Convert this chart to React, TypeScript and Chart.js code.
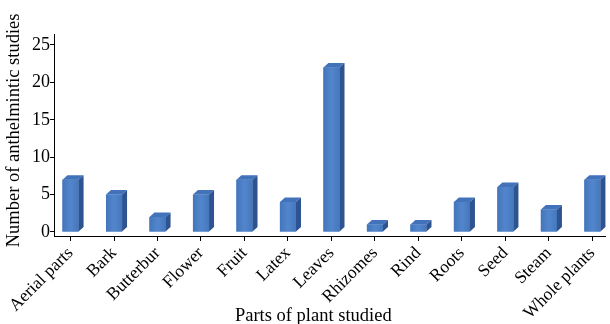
import React, { useEffect, useRef } from "react";
import { Chart, registerables } from "chart.js";

Chart.register(...registerables);

const categories = [
  "Aerial parts", "Bark", "Butterbur", "Flower", "Fruit", "Latex", "Leaves",
  "Rhizomes", "Rind", "Roots", "Seed", "Steam", "Whole plants",
];
const studies = [7, 5, 2, 5, 7, 4, 22, 1, 1, 4, 6, 3, 7];
const yTicks = [0, 5, 10, 15, 20, 25];

const FONT = "'Liberation Serif', 'Times New Roman', serif";
const NB = "\u00a0";

const bar3d = {
  id: "bar3d",
  afterDatasetsDraw(chart: any) {
    const ctx = chart.ctx;
    const meta = chart.getDatasetMeta(0);
    const dx = 5;
    const dy = 4.5;
    ctx.save();
    meta.data.forEach((el: any) => {
      const { x, y, base, width } = el.getProps(["x", "y", "base", "width"], true);
      const l = x - width / 2;
      const r = x + width / 2;
      const g = ctx.createLinearGradient(l, 0, r, 0);
      g.addColorStop(0, "#4475bb");
      g.addColorStop(0.5, "#5286cc");
      g.addColorStop(1, "#4677bd");
      ctx.fillStyle = g;
      ctx.fillRect(l, y, width, base - y);
      ctx.beginPath();
      ctx.moveTo(l, y);
      ctx.lineTo(l + dx, y - dy);
      ctx.lineTo(r + dx, y - dy);
      ctx.lineTo(r, y);
      ctx.closePath();
      ctx.fillStyle = "#4272ba";
      ctx.fill();
      ctx.beginPath();
      ctx.moveTo(r, y);
      ctx.lineTo(r + dx, y - dy);
      ctx.lineTo(r + dx, base - dy);
      ctx.lineTo(r, base);
      ctx.closePath();
      ctx.fillStyle = "#2d5390";
      ctx.fill();
    });
    ctx.restore();
  },
};

export default function App() {
  const ref = useRef<HTMLCanvasElement>(null);
  useEffect(() => {
    document.body.style.margin = "0";
    const canvas = ref.current!;
    const chart = new Chart(canvas, {
      type: "bar",
      data: {
        datasets: [
          {
            data: studies.map((v, i) => ({ x: i, y: v })),
            backgroundColor: "#4a7cc2",
            borderWidth: 0,
            barPercentage: 0.37,
            categoryPercentage: 1,
          },
        ],
      },
      options: {
        responsive: false,
        animation: false,
        events: [],
        layout: { padding: { top: 34, right: 5, left: 0, bottom: 0 } },
        plugins: { legend: { display: false }, tooltip: { enabled: false } },
        scales: {
          x: {
            type: "linear",
            offset: false,
            min: -0.38,
            max: 12.29,
            afterFit: (s: any) => { s.height = 88; },
            afterBuildTicks: (s: any) => {
              s.ticks = categories.map((_, i) => ({ value: i }));
            },
            grid: { display: true, offset: false, drawOnChartArea: false, tickLength: 5, color: "#000", lineWidth: 1 },
            border: { display: true, color: "#000", width: 1 },
            ticks: {
              autoSkip: false,
              maxRotation: 45,
              minRotation: 45,
              padding: 2,
              color: "#000",
              font: { family: FONT, size: 17.5 },
              callback: (v: any) => categories[Math.round(v)] ?? "",
            },
            title: {
              display: true,
              text: "Parts of plant studied" + NB.repeat(7),
              color: "#000",
              font: { family: FONT, size: 18.5 },
              padding: { top: 0, bottom: -3 },
            },
          },
          y: {
            min: -0.535,
            max: 26.47,
            afterFit: (s: any) => { s.width = 54; },
            afterBuildTicks: (s: any) => {
              s.ticks = yTicks.map((v) => ({ value: v }));
            },
            grid: { display: true, drawOnChartArea: false, tickLength: 4, color: "#000", lineWidth: 1 },
            border: { display: true, color: "#000", width: 1 },
            ticks: {
              padding: 0,
              color: "#000",
              font: { family: FONT, size: 18 },
            },
            title: {
              display: true,
              text: NB.repeat(2) + "Number of anthelmintic studies",
              color: "#000",
              font: { family: FONT, size: 18.5 },
              padding: { top: 3, bottom: 0 },
            },
          },
        },
      },
      plugins: [bar3d],
    });
    return () => chart.destroy();
  }, []);
  return (
    <div style={{ width: 610, height: 324, background: "#fff" }}>
      <canvas ref={ref} width={610} height={324} style={{ display: "block" }} />
    </div>
  );
}
